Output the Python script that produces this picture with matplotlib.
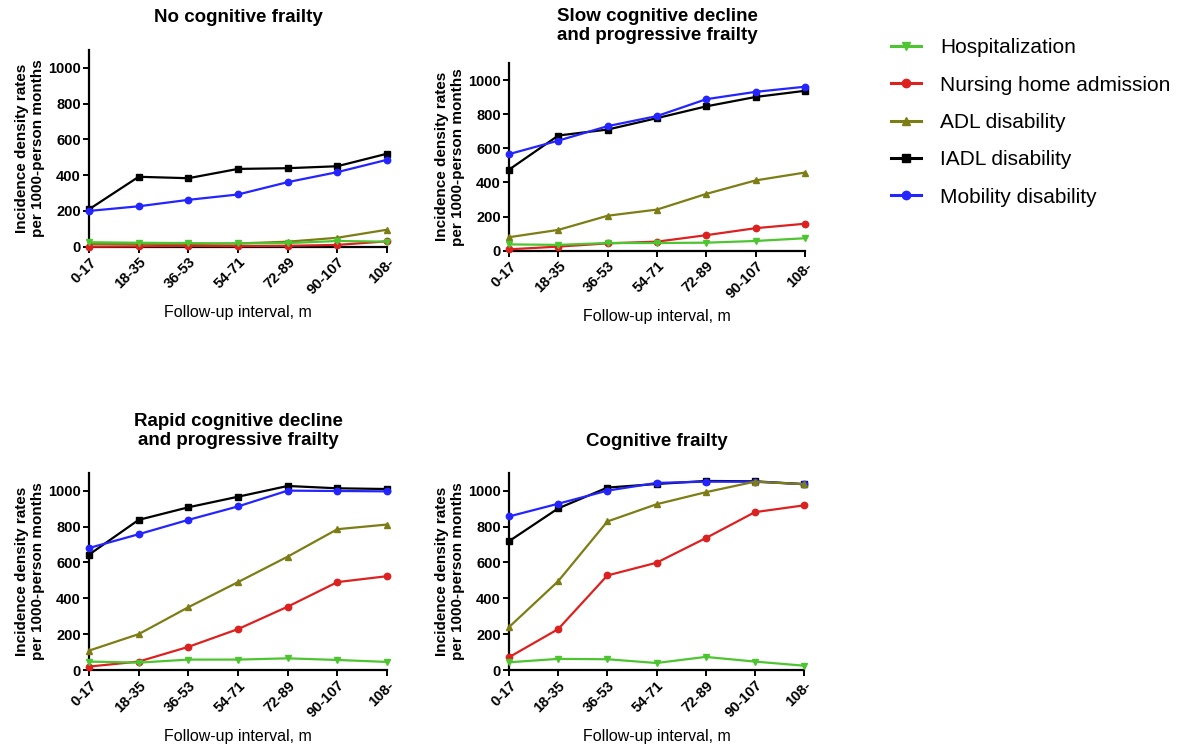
import matplotlib
matplotlib.use("Agg")
import matplotlib.pyplot as plt
from matplotlib.lines import Line2D

plt.rcParams['font.family'] = ['Liberation Sans', 'DejaVu Sans']

categories = ["0-17", "18-35", "36-53", "54-71", "72-89", "90-107", "108-"]
series_names = ["Hospitalization", "Nursing home admission", "ADL disability",
                "IADL disability", "Mobility disability"]
panel_titles = ["No cognitive frailty",
                "Slow cognitive decline\nand progressive frailty",
                "Rapid cognitive decline\nand progressive frailty",
                "Cognitive frailty"]

# Panel 1: No cognitive frailty
p1_hosp = [25, 22, 20, 18, 20, 32, 28]
p1_nurs = [0, 2, 5, 3, 5, 10, 30]
p1_adl = [15, 15, 15, 18, 28, 50, 95]
p1_iadl = [209, 391, 383, 435, 439, 450, 520]
p1_mob = [200, 226, 262, 292, 361, 417, 486]

# Panel 2: Slow cognitive decline and progressive frailty
p2_hosp = [37, 34, 45, 45, 47, 57, 73]
p2_nurs = [8, 24, 43, 53, 91, 132, 158]
p2_adl = [79, 122, 205, 241, 333, 412, 458]
p2_iadl = [475, 675, 710, 777, 846, 901, 937]
p2_mob = [566, 645, 730, 789, 888, 931, 961]

# Panel 3: Rapid cognitive decline and progressive frailty
p3_hosp = [47, 41, 58, 58, 65, 56, 45]
p3_nurs = [19, 47, 129, 228, 353, 490, 523]
p3_adl = [108, 200, 350, 490, 632, 785, 811]
p3_iadl = [643, 837, 907, 966, 1026, 1013, 1009]
p3_mob = [680, 757, 837, 912, 1000, 998, 996]

# Panel 4: Cognitive frailty
p4_hosp = [43, 62, 60, 39, 73, 47, 24]
p4_nurs = [71, 228, 527, 598, 735, 880, 918]
p4_adl = [239, 495, 828, 924, 991, 1050, 1036]
p4_iadl = [718, 901, 1017, 1037, 1054, 1052, 1036]
p4_mob = [856, 927, 1000, 1043, 1050, 1050, 1036]

yticks = [0, 200, 400, 600, 800, 1000]

colors = ["#4cc530", "#dc2121", "#7d7d16", "#000000", "#2424ff"]
markers = ["v", "o", "^", "s", "o"]
draw_order = [3, 4, 2, 1, 0]  # which series drawn later end up on top

panels = [
    [p1_hosp, p1_nurs, p1_adl, p1_iadl, p1_mob],
    [p2_hosp, p2_nurs, p2_adl, p2_iadl, p2_mob],
    [p3_hosp, p3_nurs, p3_adl, p3_iadl, p3_mob],
    [p4_hosp, p4_nurs, p4_adl, p4_iadl, p4_mob],
]

W, H = 1183, 753
fig = plt.figure(figsize=(W / 100, H / 100), dpi=100)

# axes rectangles in pixels: (left, top, right, bottom)
rects_px = [(89, 50, 387, 246.7), (509, 63, 805, 250.7),
            (89, 472.7, 387, 670), (509, 472.7, 804, 670)]
title_y_px = [18, 26, 431, 442]

x = list(range(len(categories)))
for i, (data, (l, t, r, b)) in enumerate(zip(panels, rects_px)):
    ax = fig.add_axes([l / W, 1 - b / H, (r - l) / W, (b - t) / H])
    for k in draw_order:
        ax.plot(x, data[k], color=colors[k], marker=markers[k], markersize=4.6,
                linewidth=1.6, clip_on=False, zorder=3 + draw_order.index(k))
    ax.set_xlim(0, len(categories) - 1)
    ax.set_ylim(0, 1100)
    ax.set_yticks(yticks)
    ax.set_xticks(x)
    ax.set_xticklabels(categories, rotation=45, ha="right", va="top",
                       rotation_mode="anchor", fontweight="bold", fontsize=10.5)
    ax.set_yticklabels([str(v) for v in yticks], fontweight="bold", fontsize=10.5)
    for s in ["top", "right"]:
        ax.spines[s].set_visible(False)
    for s in ["left", "bottom"]:
        ax.spines[s].set_linewidth(1.6)
    ax.tick_params(width=1.4, length=4, direction="out", pad=2)
    cx = (l + r) / 2
    fig.text(cx / W, 1 - title_y_px[i] / H, panel_titles[i], ha="center",
             va="center", fontsize=13.5, fontweight="bold", linespacing=1.15)
    fig.text(cx / W, 1 - (b + 66) / H, "Follow-up interval, m", ha="center",
             va="center", fontsize=11.5)
    fig.text((l - 59) / W, 1 - ((t + b) / 2) / H,
             "Incidence density rates\nper 1000-person months", ha="center",
             va="center", rotation=90, fontsize=11, fontweight="bold",
             linespacing=1.2)

handles = [Line2D([0], [0], color=colors[k], marker=markers[k], markersize=6,
                  linewidth=2.2) for k in range(5)]
fig.legend(handles, series_names, loc="upper left",
           bbox_to_anchor=(883 / W, 1 - 30 / H), frameon=False, fontsize=15,
           handlelength=1.4, handletextpad=0.95, labelspacing=0.88,
           numpoints=1, borderaxespad=0)

fig.savefig("out.png", dpi=100)
